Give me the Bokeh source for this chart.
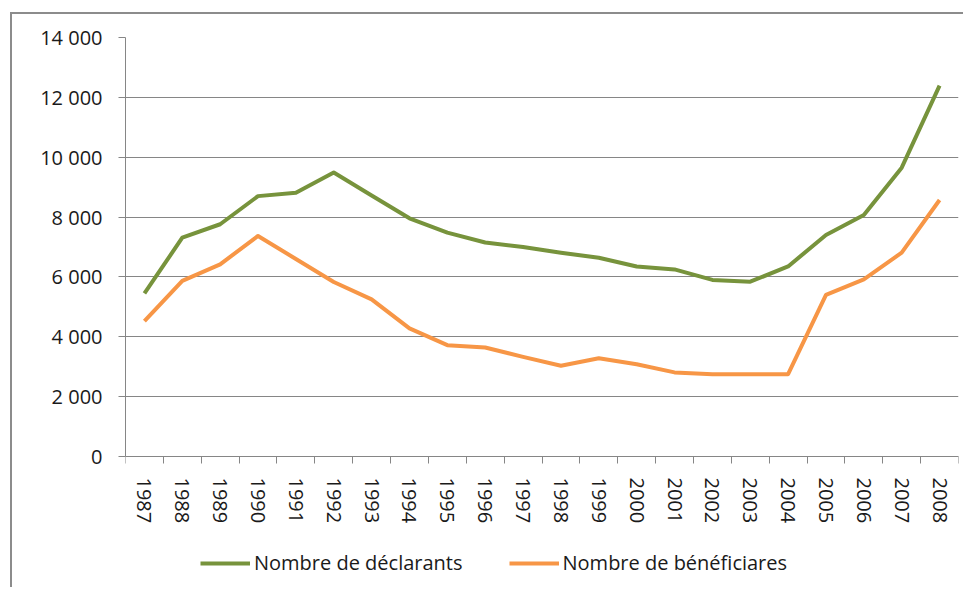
from bokeh.plotting import figure
from bokeh.models import FixedTicker, Legend, LegendItem, Range1d
from bokeh.embed import file_html
from bokeh.resources import INLINE

years = [1987, 1988, 1989, 1990, 1991, 1992, 1993, 1994, 1995, 1996, 1997,
         1998, 1999, 2000, 2001, 2002, 2003, 2004, 2005, 2006, 2007, 2008]
declarants = [5450, 7310, 7760, 8700, 8810, 9490, 8720, 7960, 7480, 7150, 7000,
              6810, 6640, 6350, 6250, 5900, 5840, 6350, 7400, 8070, 9650, 12390]
beneficiaires = [4520, 5870, 6420, 7370, 6600, 5830, 5250, 4280, 3720, 3640, 3330,
                 3030, 3280, 3080, 2810, 2750, 2750, 2750, 5400, 5920, 6810, 8570]
y_ticks = [0, 2000, 4000, 6000, 8000, 10000, 12000, 14000]
y_labels = ["0", "2 000", "4 000", "6 000", "8 000", "10 000", "12 000", "14 000"]
series_names = ["Nombre de déclarants", "Nombre de bénéficiares"]

GREEN = "#77933C"
ORANGE = "#F79646"
GRID = "#868686"
FONT = "Open Sans"

# layout (screen pixels): plot top at 37, value 0 at 456, frame bottom at 585
TOP, ZERO, BOTTOM = 37, 456, 585
y_start = -y_ticks[-1] * (BOTTOM - ZERO) / (ZERO - TOP)

p = figure(width=953, height=575, output_backend="svg", toolbar_location=None,
           x_range=Range1d(years[0] - 0.5, years[-1] + 0.5),
           y_range=Range1d(y_start, y_ticks[-1]),
           min_border_left=113, min_border_right=7, min_border_top=23,
           min_border_bottom=4)
p.margin = (12, 0, 0, 10)
p.styles = {"border-left": "2px solid #8c8c8c", "border-top": "2px solid #8c8c8c"}
p.outline_line_color = None
p.background_fill_color = "white"
p.border_fill_color = "white"

# y axis
p.yaxis.bounds = (y_ticks[0], y_ticks[-1])
p.yaxis.ticker = FixedTicker(ticks=y_ticks)
p.yaxis.major_label_overrides = {t: l for t, l in zip(y_ticks, y_labels)}
p.yaxis.axis_line_color = GRID
p.yaxis.major_tick_line_color = GRID
p.yaxis.major_tick_out = 7
p.yaxis.major_tick_in = 0
p.yaxis.minor_tick_line_color = None
p.yaxis.major_label_standoff = 16
p.yaxis.major_label_text_font = FONT
p.yaxis.major_label_text_font_size = "20px"
p.yaxis.major_label_text_color = "#1a1a1a"

# x axis, drawn at value 0
p.xaxis.fixed_location = 0
p.xaxis.ticker = FixedTicker(ticks=years, minor_ticks=[y - 0.5 for y in years] + [years[-1] + 0.5])
p.xaxis.axis_line_color = GRID
p.xaxis.major_tick_line_color = None
p.xaxis.major_tick_out = 0
p.xaxis.major_tick_in = 0
p.xaxis.minor_tick_line_color = GRID
p.xaxis.minor_tick_out = 7
p.xaxis.minor_tick_in = 0
p.xaxis.major_label_orientation = "vertical"
p.xaxis.major_label_standoff = 14
p.xaxis.major_label_text_font = FONT
p.xaxis.major_label_text_font_size = "20px"
p.xaxis.major_label_text_color = "#1a1a1a"

p.xgrid.grid_line_color = None
p.ygrid.ticker = FixedTicker(ticks=y_ticks)
p.ygrid.grid_line_color = GRID
p.ygrid.grid_line_width = 1

r1 = p.line(years, declarants, line_color=GREEN, line_width=4, line_join="round")
r2 = p.line(years, beneficiaires, line_color=ORANGE, line_width=4, line_join="round")

legend = Legend(items=[LegendItem(label=series_names[0], renderers=[r1]),
                       LegendItem(label=series_names[1], renderers=[r2])],
                orientation="horizontal", location=(75, 9),
                glyph_width=50, glyph_height=20, label_standoff=4, spacing=46,
                padding=0, margin=0, border_line_color=None,
                background_fill_alpha=0,
                label_text_font=FONT, label_text_font_size="20px",
                label_text_color="#1a1a1a")
p.add_layout(legend)

open("out.html", "w").write(file_html(p, INLINE))
